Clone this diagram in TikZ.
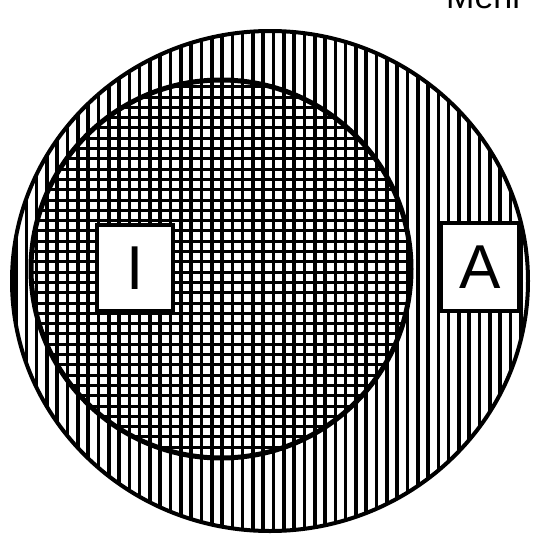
\documentclass[tikz,border=0pt]{standalone}
\usepackage{fontspec}
\setmainfont{Liberation Sans}
\begin{document}
\begin{tikzpicture}[x=1pt,y=-1pt,
  hatch/.style={line width=3.6pt,black},
  grid/.style={line width=3pt,black},
  rim/.style={line width=4pt,black},
  lbox/.style={draw=black,line width=3.5pt,fill=white,inner sep=0pt,font=\fontsize{62}{62}\selectfont}]
\useasboundingbox (0,0) rectangle (535,536);
% outer region hatching
\begin{scope}
  \clip (270,281) ellipse (258 and 250);
  \foreach \i in {-25,...,30} {
    \draw[hatch] ({222+10.3*\i},0) -- ({222+10.3*\i},536);
  }
\end{scope}
% inner grid
\begin{scope}
  \clip (221,269) ellipse (190 and 189);
  \foreach \j in {-2,...,40} {
    \draw[grid] (0,{97+10.3*\j}) -- (535,{97+10.3*\j});
  }
\end{scope}
\draw[rim] (270,281) ellipse (258 and 250);
\draw[line width=5pt] (221,269) ellipse (190 and 189);
\node[lbox,minimum width=76pt,minimum height=86pt] (I) at (135,268) {I};
\node[lbox,minimum width=78pt,minimum height=88pt] (A) at (480,267) {A};
\node[anchor=base west,inner sep=0pt,font=\fontsize{34}{34}\selectfont] (T) at (446,8) {Menr};
\end{tikzpicture}
\end{document}
